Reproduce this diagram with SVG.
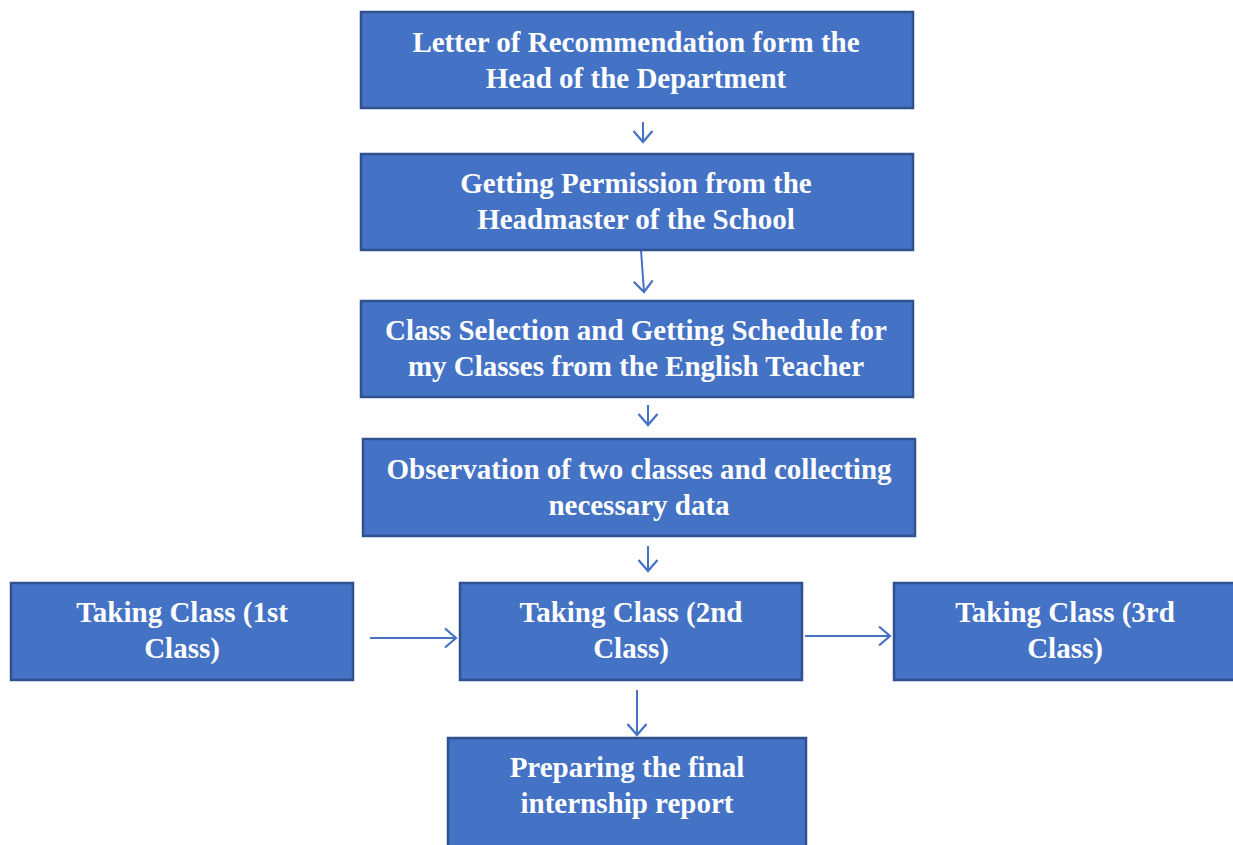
<svg xmlns="http://www.w3.org/2000/svg" width="1233" height="845" viewBox="0 0 1233 845">
<style>
.box{fill:#4472C4;stroke:#2F528F;stroke-width:2.5}
.t{font-family:"Liberation Serif",serif;font-weight:bold;font-size:29px;fill:#fff;text-anchor:middle}
.c{stroke:#4472C4;stroke-width:2;fill:none}
</style>
<defs>
<marker id="ah" markerWidth="24" markerHeight="24" refX="12" refY="12" orient="auto" markerUnits="userSpaceOnUse">
<path d="M1,2.5 L12,12 L1,21.5" fill="none" stroke="#4472C4" stroke-width="2.2"/>
</marker>
</defs>
<rect width="1233" height="845" fill="#fff"/>
<g id="connectors">
<line class="c" x1="643" y1="122" x2="643" y2="142" marker-end="url(#ah)"/>
<line class="c" x1="641" y1="250" x2="644" y2="292" marker-end="url(#ah)"/>
<line class="c" x1="648" y1="405" x2="648" y2="425" marker-end="url(#ah)"/>
<line class="c" x1="648" y1="546" x2="648" y2="571" marker-end="url(#ah)"/>
<line class="c" x1="370" y1="638" x2="456" y2="638" marker-end="url(#ah)"/>
<line class="c" x1="805" y1="636" x2="890" y2="636" marker-end="url(#ah)"/>
<line class="c" x1="637" y1="690" x2="637" y2="735" marker-end="url(#ah)"/>
</g>
<g id="n1"><rect class="box" x="361" y="12" width="552" height="96"/><text class="t" x="636" y="51.5">Letter of Recommendation form the</text><text class="t" x="636" y="87.5">Head of the Department</text></g>
<g id="n2"><rect class="box" x="361" y="154" width="552" height="96"/><text class="t" x="636" y="192.5">Getting Permission from the</text><text class="t" x="636" y="228.5">Headmaster of the School</text></g>
<g id="n3"><rect class="box" x="361" y="301" width="552" height="96"/><text class="t" x="636" y="339.5">Class Selection and Getting Schedule for</text><text class="t" x="636" y="375.5">my Classes from the English Teacher</text></g>
<g id="n4"><rect class="box" x="363" y="439" width="552" height="97"/><text class="t" x="639" y="478.5">Observation of two classes and collecting</text><text class="t" x="639" y="514.5">necessary data</text></g>
<g id="n5"><rect class="box" x="11" y="583" width="342" height="97"/><text class="t" x="182" y="621.5">Taking Class (1st</text><text class="t" x="182" y="657.5">Class)</text></g>
<g id="n6"><rect class="box" x="460" y="583" width="342" height="97"/><text class="t" x="631" y="621.5">Taking Class (2nd</text><text class="t" x="631" y="657.5">Class)</text></g>
<g id="n7"><rect class="box" x="894" y="583" width="345" height="97"/><text class="t" x="1065" y="622">Taking Class (3rd</text><text class="t" x="1065" y="658">Class)</text></g>
<g id="n8"><rect class="box" x="448" y="738" width="358" height="115"/><text class="t" x="627" y="776.5">Preparing the final</text><text class="t" x="627" y="812.5">internship report</text></g>
</svg>
